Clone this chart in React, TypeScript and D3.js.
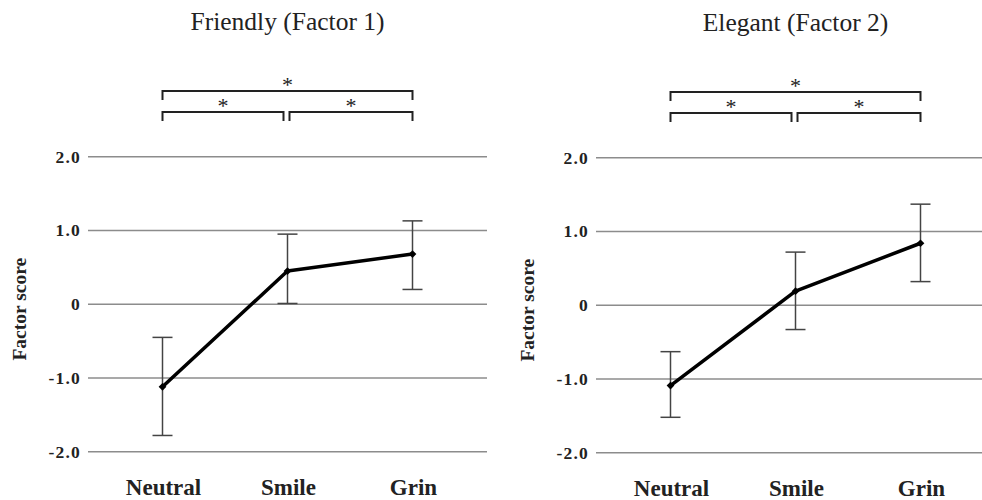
import * as d3 from "d3";
import React from "react";

const categories = ["Neutral", "Smile", "Grin"];

const friendlyMean = [-1.12, 0.45, 0.68];
const friendlyUpper = [-0.45, 0.95, 1.13];
const friendlyLower = [-1.78, 0.01, 0.2];

const elegantMean = [-1.09, 0.19, 0.84];
const elegantUpper = [-0.63, 0.72, 1.37];
const elegantLower = [-1.52, -0.33, 0.32];

const yTicks = [2, 1, 0, -1, -2];
const yTickLabels = ["2.0", "1.0", "0", "-1.0", "-2.0"];

// [from, to, level] pairs of categories, level 0 = outer bracket
const comparisons: [number, number, number][] = [
  [0, 2, 0],
  [0, 1, 1],
  [1, 2, 1],
];
const sigMark = "*";

const serif = "'Liberation Serif', 'Times New Roman', serif";

type PanelProps = {
  title: string;
  mean: number[];
  upper: number[];
  lower: number[];
  dx: number;
  dy: number;
};

const Panel = ({ title, mean, upper, lower, dx, dy }: PanelProps) => {
  let margins = { l: 88, r: 487, t: 156.7, b: 451.7 };

  let xScale = d3
    .scalePoint<string>()
    .domain(categories)
    .range([margins.l, margins.r])
    .padding(0.596);
  let yScale = d3.scaleLinear().domain([-2, 2]).range([margins.b, margins.t]);

  let lineGen = d3
    .line<number>()
    .x((d, i) => xScale(categories[i]) as number)
    .y((d) => yScale(d));

  let marker = d3.symbol().type(d3.symbolSquare).size(30)();

  let bracketY = [91, 112];
  let tickLen = 9;

  return (
    <g transform={`translate(${dx},${dy})`}>
      <text
        x={(margins.l + margins.r) / 2}
        y={30}
        textAnchor="middle"
        fontFamily={serif}
        fontSize={25.5}
        fill="#222"
      >
        {title}
      </text>

      {comparisons.map(([a, b, level], i) => {
        let x1 = xScale(categories[a]) as number;
        let x2 = xScale(categories[b]) as number;
        if (level > 0) {
          if (a === 1) x1 += 2;
          if (b === 1) x2 -= 4;
        }
        let y = bracketY[level];
        return (
          <g key={"br" + i}>
            <path
              d={`M${x1},${y + tickLen}V${y}H${x2}V${y + tickLen}`}
              fill="none"
              stroke="#222"
              strokeWidth={2}
            />
            <text
              x={(x1 + x2) / 2}
              y={y + 1}
              textAnchor="middle"
              fontFamily={serif}
              fontSize={22}
              fill="#222"
            >
              {sigMark}
            </text>
          </g>
        );
      })}

      {yTicks.map((t, i) => (
        <g key={"yt" + i}>
          <line
            x1={margins.l}
            x2={margins.r}
            y1={yScale(t)}
            y2={yScale(t)}
            stroke="#8c8c8c"
            strokeWidth={1.5}
          />
          <text
            x={margins.l - 7}
            y={yScale(t)}
            dy="0.34em"
            textAnchor="end"
            fontFamily={serif}
            fontWeight="bold"
            fontSize={17.5}
            letterSpacing={1.2}
            fill="#222"
          >
            {yTickLabels[i]}
          </text>
        </g>
      ))}

      <text
        transform={`translate(26,${yScale(0) + 5}) rotate(-90)`}
        textAnchor="middle"
        fontFamily={serif}
        fontWeight="bold"
        fontSize={19.5}
        fill="#222"
      >
        Factor score
      </text>

      {categories.map((c, i) => {
        let x = xScale(c) as number;
        return (
          <g key={"eb" + i}>
            <line
              x1={x}
              x2={x}
              y1={yScale(upper[i])}
              y2={yScale(lower[i])}
              stroke="#444"
              strokeWidth={1.5}
            />
            <line
              x1={x - 10}
              x2={x + 10}
              y1={yScale(upper[i])}
              y2={yScale(upper[i])}
              stroke="#444"
              strokeWidth={1.5}
            />
            <line
              x1={x - 10}
              x2={x + 10}
              y1={yScale(lower[i])}
              y2={yScale(lower[i])}
              stroke="#444"
              strokeWidth={1.5}
            />
          </g>
        );
      })}

      <path
        d={lineGen(mean) || ""}
        fill="none"
        stroke="#000"
        strokeWidth={3.5}
        strokeLinejoin="round"
      />
      {mean.map((m, i) => (
        <path
          key={"mk" + i}
          d={marker || ""}
          transform={`translate(${xScale(categories[i])},${yScale(m)}) rotate(45)`}
          fill="#000"
        />
      ))}

      {categories.map((c, i) => (
        <text
          key={"xl" + i}
          x={(xScale(c) as number) + 1}
          y={495}
          textAnchor="middle"
          fontFamily={serif}
          fontWeight="bold"
          fontSize={23}
          fill="#222"
        >
          {c}
        </text>
      ))}
    </g>
  );
};

export default function App() {
  return (
    <svg
      width={982}
      height={500}
      style={{ position: "absolute", left: 0, top: 0, background: "#fff" }}
    >
      <rect width={982} height={500} fill="#fff" />
      <Panel
        title="Friendly (Factor 1)"
        mean={friendlyMean}
        upper={friendlyUpper}
        lower={friendlyLower}
        dx={0}
        dy={0}
      />
      <Panel
        title="Elegant (Factor 2)"
        mean={elegantMean}
        upper={elegantUpper}
        lower={elegantLower}
        dx={508}
        dy={1}
      />
    </svg>
  );
}
